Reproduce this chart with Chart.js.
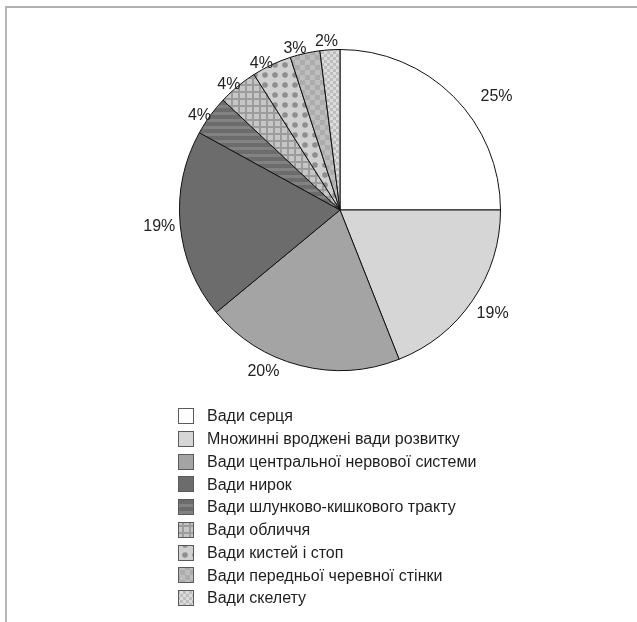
<!DOCTYPE html>
<html>
<head>
<meta charset="utf-8">
<script src="https://cdn.jsdelivr.net/npm/chart.js@4.4.1/dist/chart.umd.min.js"></script>
<style>
  html, body { margin: 0; padding: 0; background: #fff; }
  #wrap { position: relative; width: 637px; height: 622px; }
  #frame { position: absolute; left: 5px; top: 6px; right: 0; bottom: 0;
           border-top: 2px solid #b0b0b0; border-left: 2px solid #b8b8b8; }
  canvas { position: absolute; left: 0; top: 0; }
</style>
</head>
<body>
<div id="wrap">
  <div id="frame"></div>
  <canvas id="myChart" width="637" height="622"></canvas>
</div>
<script>
const labels = [
    'Вади серця',
    'Множинні вроджені вади розвитку',
    'Вади центральної нервової системи',
    'Вади нирок',
    'Вади шлунково-кишкового тракту',
    'Вади обличчя',
    'Вади кистей і стоп',
    'Вади передньої черевної стінки',
    'Вади скелету'
];
const shares = [25, 19, 20, 19, 4, 4, 4, 3, 2];

// small tiles used as fills
const makeTile = (size, draw) => {
    const c = document.createElement('canvas');
    c.width = size;
    c.height = size;
    draw(c.getContext('2d'), size);
    return c.getContext('2d').createPattern(c, 'repeat');
};

const stripes = makeTile(7, (g, s) => {
    g.fillStyle = '#6c6c6c'; g.fillRect(0, 0, s, s);
    g.fillStyle = '#828282'; g.fillRect(0, 0, s, 3);
});
const grid = makeTile(7, (g, s) => {
    g.fillStyle = '#c6c6c6'; g.fillRect(0, 0, s, s);
    g.fillStyle = '#9c9c9c'; g.fillRect(0, 0, s, 2); g.fillRect(0, 0, 2, s);
});
const dots = makeTile(10, (g, s) => {
    g.fillStyle = '#d0d0d0'; g.fillRect(0, 0, s, s);
    g.fillStyle = '#8e8e8e';
    g.beginPath(); g.arc(5, 5, 2.8, 0, Math.PI * 2); g.fill();
});
const blocks = makeTile(10, (g, s) => {
    g.fillStyle = '#bebebe'; g.fillRect(0, 0, s, s);
    g.fillStyle = '#acacac'; g.fillRect(0, 0, 5, 5); g.fillRect(5, 5, 5, 5);
});
const checker = makeTile(6, (g, s) => {
    g.fillStyle = '#dcdcdc'; g.fillRect(0, 0, s, s);
    g.fillStyle = '#bdbdbd'; g.fillRect(0, 0, 3, 3); g.fillRect(3, 3, 3, 3);
});

const fills = ['#ffffff', '#d6d6d6', '#a4a4a4', '#6c6c6c', stripes, grid, dots, blocks, checker];

const FONT = '16px "Liberation Sans", Arial, sans-serif';

// percentages outside the slices
const pctLabels = {
    id: 'pctLabels',
    afterDatasetsDraw(chart, args, opts) {
        const {ctx} = chart;
        const meta = chart.getDatasetMeta(0);
        ctx.save();
        ctx.font = FONT;
        ctx.fillStyle = '#222';
        ctx.textAlign = 'center';
        ctx.textBaseline = 'middle';
        meta.data.forEach((arc, i) => {
            const p = arc.getProps(['x', 'y', 'startAngle', 'endAngle', 'outerRadius'], true);
            const a = (p.startAngle + p.endAngle) / 2 + (opts.shift[i] || 0) * Math.PI / 180;
            const r = p.outerRadius + opts.offset[i];
            ctx.fillText(shares[i] + '%', p.x + Math.cos(a) * r, p.y + Math.sin(a) * r);
        });
        ctx.restore();
    }
};

// vertical legend under the pie
const listLegend = {
    id: 'listLegend',
    afterDraw(chart, args, opts) {
        const {ctx} = chart;
        const ds = chart.data.datasets[0];
        const box = opts.box;
        ctx.save();
        ctx.font = FONT;
        ctx.textBaseline = 'middle';
        chart.data.labels.forEach((text, i) => {
            const y = opts.top + i * opts.step;
            const by = Math.round(y - box / 2);
            ctx.fillStyle = ds.backgroundColor[i];
            ctx.fillRect(opts.left, by, box, box);
            ctx.strokeStyle = '#5a5a5a';
            ctx.lineWidth = 1;
            ctx.strokeRect(opts.left + 0.5, by + 0.5, box - 1, box - 1);
            ctx.fillStyle = '#1e1e1e';
            ctx.fillText(text, opts.left + 29, y + 1);
        });
        ctx.restore();
    }
};

const ctx = document.getElementById('myChart');

new Chart(ctx, {
    type: 'pie',
    data: {
        labels: labels,
        datasets: [{
            data: shares,
            backgroundColor: fills,
            borderColor: '#111',
            borderWidth: 1
        }]
    },
    options: {
        responsive: false,
        animation: false,
        layout: {
            padding: {top: 49, bottom: 251, left: 179, right: 136}
        },
        plugins: {
            legend: {display: false},
            tooltip: {enabled: false},
            pctLabels: {
                offset: [33, 24, 18, 21, 9, 7, 6, 7, 8],
                shift: [9, 0, 11, 0, -2, -2, -3, -3, -1]
            },
            listLegend: {left: 178, top: 416, step: 22.75, box: 16}
        }
    },
    plugins: [pctLabels, listLegend]
});
</script>
</body>
</html>
